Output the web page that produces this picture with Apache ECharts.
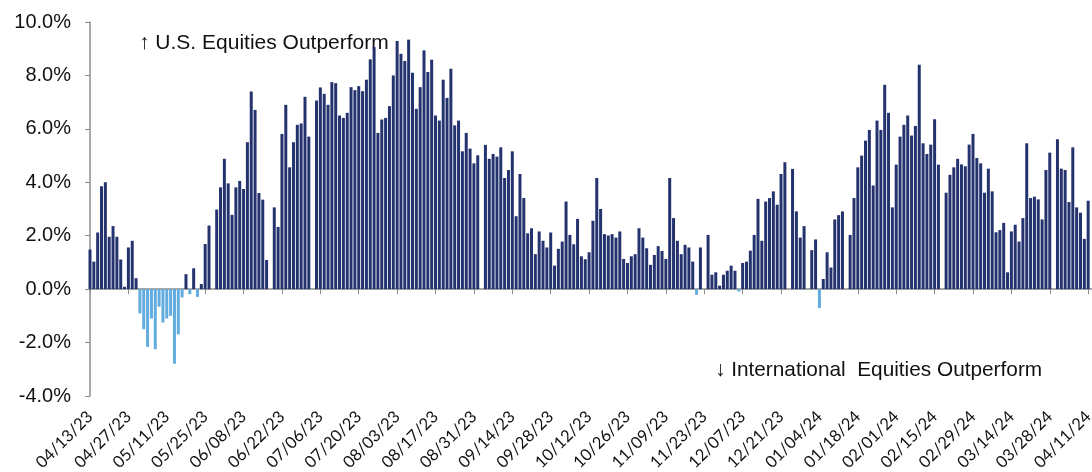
<!DOCTYPE html>
<html>
<head>
<meta charset="utf-8">
<style>
    html,body{margin:0;padding:0;background:#fff;}
    #demo{width:1092px;height:472px;}
</style>
<script src="https://cdn.jsdelivr.net/npm/echarts/dist/echarts.min.js"></script>
</head>
<body>
<div id="demo"></div>
<script>
// weekday dates, 04/13/23 .. 04/12/24 (labels every 10th day)
var startDate = "2023-04-13";
var dayCount = 262;

// US minus international equity return spread (%), null = market holiday
var spreadValues = [
    1.48, 1.03, 2.12, 3.85, 4.00, 1.96, 2.36, 1.96, 1.11, 0.09,
    1.56, 1.81, 0.41, -0.91, -1.50, -2.16, -1.10, -2.25, -0.66, -1.25,
    -1.10, -1.00, -2.79, -1.69, -0.31, 0.56, -0.19, 0.78, -0.29, 0.19,
    1.69, 2.38, null, 2.98, 3.81, 4.88, 3.96, 2.78, 3.81, 4.05,
    3.75, 5.50, 7.40, 6.71, 3.60, 3.35, 1.09, null, 3.06, 2.33,
    5.81, 6.90, 4.56, 5.50, 6.15, 6.20, 7.20, 5.71, null, 7.06,
    7.55, 7.31, 6.90, 7.75, 7.71, 6.50, 6.41, 6.60, 7.56, 7.45,
    7.60, 7.41, 7.84, 8.60, 9.06, 5.85, 6.35, 6.41, 6.85, 8.00,
    9.29, 8.81, 8.54, 9.34, 8.10, 6.75, 7.56, 8.94, 8.13, 8.59,
    6.50, 6.31, 7.84, 7.16, 8.25, 6.13, 6.31, 5.16, 5.85, 5.26,
    4.71, 5.01, null, 5.40, 4.88, 5.06, 4.96, 5.31, 4.16, 4.46,
    5.16, 2.73, 4.31, 3.41, 2.09, 2.28, 1.31, 2.16, 1.81, 1.56,
    2.12, 0.88, 1.51, 1.78, 3.28, 2.03, 1.68, 2.63, 1.23, 1.12,
    1.38, 2.56, 4.16, 3.00, 2.06, 2.01, 2.06, 1.93, 2.16, 1.13,
    0.98, 1.23, 1.31, 2.28, 1.93, 1.53, 0.91, 1.28, 1.61, 1.43,
    1.13, 4.16, 2.66, 1.81, 1.31, 1.66, 1.56, 1.03, -0.21, 1.56,
    null, 2.03, 0.54, 0.63, 0.13, 0.54, 0.69, 0.88, 0.69, -0.09,
    0.98, 1.03, 1.44, 2.03, 3.38, 1.81, 3.28, 3.41, 3.66, 3.16,
    4.31, 4.75, null, 4.50, 2.91, 1.93, 2.36, null, 1.46, 1.86,
    -0.71, 0.38, 1.38, 0.81, 2.61, 2.77, 2.91, null, 2.03, 3.41,
    4.56, 5.00, 5.56, 5.96, 3.88, 6.31, 5.96, 7.65, 6.60, 3.06,
    4.66, 5.71, 6.15, 6.50, 5.75, 6.11, 8.40, 5.46, 5.06, 5.41,
    6.36, 4.66, null, 3.61, 4.28, 4.56, 4.88, 4.67, 4.60, 5.41,
    5.81, 4.91, 4.71, 3.61, 4.51, 3.66, 2.13, 2.21, 2.48, 0.63,
    2.16, 2.41, 1.78, 2.66, 5.46, 3.41, 3.46, 3.36, 2.61, 4.46,
    5.11, null, 5.61, 4.51, 4.46, 3.26, 5.31, 3.06, 2.86, 1.88,
    3.31
];

var yTicks = {min: -4, max: 10, step: 2};
var upText = "\u2191 U.S. Equities Outperform";
var downText = "\u2193 International  Equities Outperform";

var ChartUtil = {
    renderChart : function(selector, options){
        var dom = document.getElementById(selector);
        var myChart = echarts.init(dom);
        if (options && typeof options === "object") {
            myChart.setOption(options, true);
        }
    },
    pad : function(n){
        return n < 10 ? "0" + n : String(n);
    },
    // weekdays only, MM/DD/YY
    weekdays : function(start, count){
        var d = new Date(start + "T00:00:00"), out = [];
        while (out.length < count) {
            var wd = d.getDay();
            if (wd !== 0 && wd !== 6) {
                out.push(this.pad(d.getMonth() + 1) + "/" + this.pad(d.getDate()) + "/" + String(d.getFullYear()).substr(2, 2));
            }
            d.setDate(d.getDate() + 1);
        }
        return out;
    }
};

var app = {
    init : function(){
        this.config = {
            upColor : "#24326e",
            downColor : "#62ace0",
            axisColor : "#8c8c8c"
        };
        this.spreadChart();
    },
    spreadChart : function(){
        var self = this;
        var xData = ChartUtil.weekdays(startDate, dayCount);
        var options = {
            animation: false,
            grid: {
                left: 90,
                right: 0,
                top: 22,
                bottom: 76,
                containLabel: false,
                outerBoundsMode: "none"
            },
            graphic: [
                {
                    type: "text",
                    left: 139,
                    top: 33,
                    style: {
                        text: upText,
                        fill: "#111",
                        font: '21px "Liberation Sans", Arial, sans-serif'
                    }
                },
                {
                    type: "text",
                    left: 715,
                    top: 360,
                    style: {
                        text: downText,
                        fill: "#111",
                        font: '20.8px "Liberation Sans", Arial, sans-serif'
                    }
                }
            ],
            xAxis: {
                type: "category",
                data: xData,
                boundaryGap: false,
                axisLine: {
                    onZero: true,
                    lineStyle: {
                        color: self.config.axisColor,
                        width: 1.5
                    }
                },
                axisTick: {
                    show: true,
                    interval: 9,
                    length: 5,
                    lineStyle: {
                        color: self.config.axisColor
                    }
                },
                axisLabel: {
                    interval: 9,
                    rotate: 45,
                    margin: 18,
                    color: "#111",
                    fontFamily: "Lato",
                    fontSize: 16.5
                }
            },
            yAxis: {
                type: "value",
                min: yTicks.min,
                max: yTicks.max,
                interval: yTicks.step,
                axisLine: {
                    show: true,
                    lineStyle: {
                        color: self.config.axisColor,
                        width: 1.5
                    }
                },
                axisTick: {
                    show: true,
                    length: 5,
                    lineStyle: {
                        color: self.config.axisColor
                    }
                },
                splitLine: {
                    show: false
                },
                axisLabel: {
                    margin: 19,
                    color: "#111",
                    fontFamily: "Liberation Sans",
                    fontSize: 20,
                    formatter: function(v){
                        return v.toFixed(1) + "%";
                    }
                }
            },
            series: [
                {
                    name: "Spread",
                    type: "bar",
                    clip: false,
                    barCategoryGap: "22%",
                    itemStyle: {
                        color: function(p){
                            return p.value < 0 ? self.config.downColor : self.config.upColor;
                        }
                    },
                    data: spreadValues
                }
            ]
        };
        ChartUtil.renderChart("demo", options);
    }
};

app.init();
</script>
</body>
</html>
